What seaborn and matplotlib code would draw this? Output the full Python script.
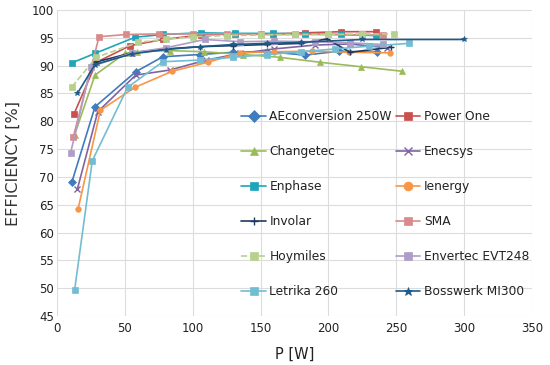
import matplotlib
matplotlib.use("Agg")
import matplotlib.pyplot as plt
import seaborn as sns
import pandas as pd

# ---- data ----
names = ["AEconversion 250W", "Power One", "Changetec", "Enecsys", "Enphase", "Ienergy",
         "Involar", "SMA", "Hoymiles", "Envertec EVT248", "Letrika 260", "Bosswerk MI300"]

p_aeconv = [11, 28, 58, 78, 105, 130, 155, 183, 208, 236]
e_aeconv = [69.1, 82.6, 88.9, 91.6, 92.0, 92.4, 92.5, 91.9, 92.6, 92.4]

p_powerone = [12.5, 29, 54, 78, 106, 131, 159, 183, 209, 235]
e_powerone = [81.3, 90.6, 93.6, 94.7, 95.5, 95.7, 95.7, 95.9, 96.1, 96.1]

p_changetec = [13, 28, 50, 59, 83, 108, 137, 164, 194, 224, 254]
e_changetec = [77.6, 88.3, 92.2, 92.5, 92.7, 92.5, 92.0, 91.5, 90.6, 89.8, 89.0]

p_enecsys = [15, 30, 58, 83, 110, 135, 160, 190, 216, 243]
e_enecsys = [67.8, 81.7, 88.3, 89.2, 91.0, 92.2, 93.0, 93.7, 93.9, 93.2]

p_enphase = [11, 28, 57.5, 78, 106, 131, 159, 183, 209, 235]
e_enphase = [90.5, 92.2, 95.1, 95.6, 95.9, 95.8, 95.8, 95.7, 95.6, 95.4]

p_ienergy = [15.5, 32, 57.5, 85, 111, 135, 160, 188, 215, 245]
e_ienergy = [64.2, 82.0, 86.1, 89.0, 90.6, 92.3, 92.5, 92.6, 92.4, 92.3]

p_involar = [28, 55, 80, 105, 130, 155, 180, 199, 216, 246]
e_involar = [90.6, 92.3, 93.0, 93.4, 93.6, 93.8, 94.0, 94.8, 92.4, 93.3]

p_sma = [12, 31, 51, 75, 100, 125, 150, 175, 200, 225, 240]
e_sma = [77.2, 95.2, 95.6, 95.7, 95.7, 95.7, 95.6, 95.6, 95.6, 95.5, 95.5]

p_hoymiles = [11, 29, 60, 80, 100, 125, 150, 175, 200, 225, 248]
e_hoymiles = [86.2, 91.5, 94.2, 94.7, 95.2, 95.4, 95.5, 95.6, 95.6, 95.7, 95.7]

p_envertec = [10, 25, 55, 80, 109, 135, 160, 190, 216, 240]
e_envertec = [74.3, 89.8, 92.3, 93.2, 94.7, 94.3, 94.4, 94.3, 94.1, 93.8]

p_letrika = [13, 26, 52, 78, 105, 130, 155, 180, 205, 230, 259]
e_letrika = [49.7, 72.9, 86.1, 90.7, 91.0, 91.5, 92.0, 92.5, 93.0, 93.5, 94.0]

p_bosswerk = [15, 28, 55, 80, 105, 130, 155, 180, 225, 300]
e_bosswerk = [85.0, 90.2, 92.1, 92.9, 93.4, 93.8, 94.0, 94.2, 94.7, 94.7]

x_ticks = [0, 50, 100, 150, 200, 250, 300, 350]
y_ticks = [45, 50, 55, 60, 65, 70, 75, 80, 85, 90, 95, 100]

series = {
    "AEconversion 250W": (p_aeconv, e_aeconv),
    "Power One": (p_powerone, e_powerone),
    "Changetec": (p_changetec, e_changetec),
    "Enecsys": (p_enecsys, e_enecsys),
    "Enphase": (p_enphase, e_enphase),
    "Ienergy": (p_ienergy, e_ienergy),
    "Involar": (p_involar, e_involar),
    "SMA": (p_sma, e_sma),
    "Hoymiles": (p_hoymiles, e_hoymiles),
    "Envertec EVT248": (p_envertec, e_envertec),
    "Letrika 260": (p_letrika, e_letrika),
    "Bosswerk MI300": (p_bosswerk, e_bosswerk),
}

colors = {
    "AEconversion 250W": "#3f7bbd", "Power One": "#c9504d", "Changetec": "#9bbb59",
    "Enecsys": "#8064a2", "Enphase": "#1ea5bb", "Ienergy": "#f79646",
    "Involar": "#1f3a60", "SMA": "#d98a8a", "Hoymiles": "#b8d08e",
    "Envertec EVT248": "#ae9dc6", "Letrika 260": "#72bdd3", "Bosswerk MI300": "#1d5a8a",
}
markers = {
    "AEconversion 250W": "D", "Power One": "s", "Changetec": "^", "Enecsys": "x",
    "Enphase": "s", "Ienergy": "o", "Involar": "+", "SMA": "s", "Hoymiles": "s",
    "Envertec EVT248": "s", "Letrika 260": "s", "Bosswerk MI300": "*",
}
dashed = {"Hoymiles"}

rows = []
for n in names:
    px, ev = series[n]
    for a, b in zip(px, ev):
        rows.append({"name": n, "P": a, "eff": b})
df = pd.DataFrame(rows)

sns.set_theme(style="whitegrid")
plt.rcParams["font.family"] = ["DejaVu Sans"]

fig = plt.figure(figsize=(5.5, 3.65), dpi=100)
ax = fig.add_axes([57 / 550, 1 - 316 / 365, 475 / 550, 306 / 365])

handles = {}
for n in names:
    d = df[df["name"] == n]
    sns.lineplot(data=d, x="P", y="eff", ax=ax, color=colors[n], marker=markers[n],
                 markersize=4, markeredgewidth=1.0 if markers[n] in "x+" else 0.5,
                 markeredgecolor=colors[n], linewidth=1.2,
                 linestyle="--" if n in dashed else "-", estimator=None, sort=False,
                 label=n)
    handles[n] = ax.lines[-1]

ax.set_xlim(0, 350)
ax.set_ylim(45, 100)
ax.set_xticks(x_ticks)
ax.set_yticks(y_ticks)
ax.tick_params(axis="both", labelsize=8.5, colors="#222222", length=0)
ax.tick_params(axis="x", pad=4)
ax.tick_params(axis="y", pad=2)
ax.grid(True, color="#dcdcdc", linewidth=0.8)
for s in ax.spines.values():
    s.set_visible(False)
ax.set_facecolor("white")

ax.set_xlabel("P [W]", fontsize=10.5, color="#222222", labelpad=9)
ax.set_ylabel("EFFICIENCY [%]", fontsize=11.5, color="#333333", labelpad=8)

order = ["AEconversion 250W", "Changetec", "Enphase", "Involar", "Hoymiles", "Letrika 260",
         "Power One", "Enecsys", "Ienergy", "SMA", "Envertec EVT248", "Bosswerk MI300"]
leg = ax.legend([handles[n] for n in order], order, ncol=2, loc="upper left",
                bbox_to_anchor=(0.365, 0.708), frameon=False, fontsize=8.8,
                labelspacing=1.8, columnspacing=0.3, handlelength=2.0,
                handletextpad=0.3, markerscale=1.6)
for t in leg.get_texts():
    t.set_color("#222222")

fig.savefig("out.png", dpi=100)
